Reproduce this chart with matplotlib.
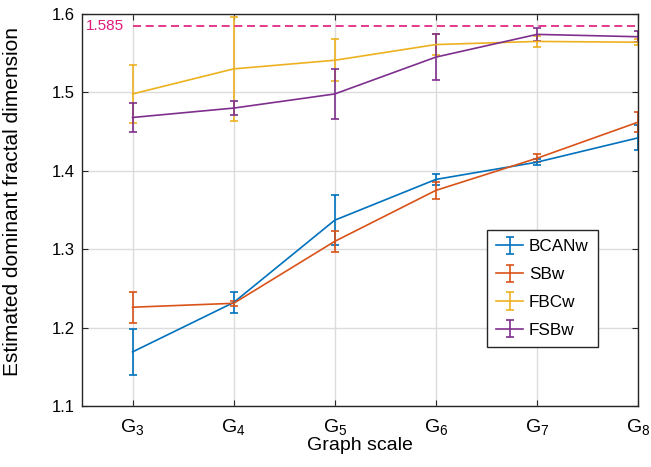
import numpy as np
import matplotlib.pyplot as plt

plt.rcParams['font.family'] = ['Liberation Sans', 'DejaVu Sans']
plt.rcParams['mathtext.fontset'] = 'custom'
plt.rcParams['mathtext.rm'] = 'Liberation Sans'
plt.rcParams['mathtext.it'] = 'Liberation Sans'

scales = [3, 4, 5, 6, 7, 8]
tick_labels = [r'$\mathrm{G}_{%d}$' % s for s in scales]

bcanw = [1.169, 1.232, 1.337, 1.389, 1.411, 1.442]
bcanw_err = [0.029, 0.013, 0.032, 0.007, 0.004, 0.016]
sbw = [1.226, 1.231, 1.310, 1.375, 1.416, 1.462]
sbw_err = [0.020, 0.003, 0.013, 0.011, 0.005, 0.013]
fbcw = [1.498, 1.530, 1.541, 1.561, 1.565, 1.564]
fbcw_err = [0.037, 0.066, 0.027, 0.013, 0.007, 0.004]
fsbw = [1.468, 1.480, 1.498, 1.545, 1.574, 1.571]
fsbw_err = [0.019, 0.009, 0.032, 0.029, 0.008, 0.007]
limit = 1.585

series = [('BCANw', bcanw, bcanw_err, '#0072BD'),
          ('SBw', sbw, sbw_err, '#D95319'),
          ('FBCw', fbcw, fbcw_err, '#EDB120'),
          ('FSBw', fsbw, fsbw_err, '#7E2F8E')]

fig = plt.figure(figsize=(6.51, 4.67), dpi=100)
ax = fig.add_axes([82/651, 1 - 406/467, 556/651, 392/467])

for name, y, e, c in series:
    ax.errorbar(scales, y, yerr=e, color=c, lw=1.2, elinewidth=1.2,
                capsize=3, capthick=1.2, label=name)

ax.plot([scales[0], scales[-1]], [limit, limit], ls=(0, (4.8, 2.8)), color='#E0177A', lw=1.2)
ax.text(2.54, limit, '%.3f' % limit, color='#E0177A', fontsize=11, va='center', ha='left')

ax.set_xlim(2.5, 8)
ax.set_ylim(1.1, 1.6)
ax.set_xticks(scales)
ax.set_xticklabels(tick_labels, fontsize=14)
ax.set_yticks(np.arange(1.1, 1.61, 0.1))
ax.set_yticklabels(['%.1f' % v for v in np.arange(1.1, 1.61, 0.1)], fontsize=12)
ax.tick_params(direction='in', top=True, right=True, length=4, color='#262626')
ax.tick_params(axis='x', pad=8)
ax.tick_params(axis='y', pad=5)
ax.grid(True, color='#DCDCDC', lw=1)
ax.set_axisbelow(True)
for sp in ax.spines.values():
    sp.set_color('#262626')
    sp.set_linewidth(1)

ax.set_xlabel('Graph scale', fontsize=14, labelpad=0)
ax.set_ylabel('Estimated dominant fractal dimension', fontsize=15)
ax.yaxis.set_label_coords(-0.108, 0.522)

leg = ax.legend(loc='upper left', bbox_to_anchor=(0.7284, 0.449), borderaxespad=0,
                fontsize=12.3, fancybox=False, edgecolor='#262626', framealpha=1,
                handlelength=1.55, borderpad=0.55, labelspacing=0.75, handletextpad=0.35)
leg.get_frame().set_linewidth(1)

fig.savefig('out.png', dpi=100)
